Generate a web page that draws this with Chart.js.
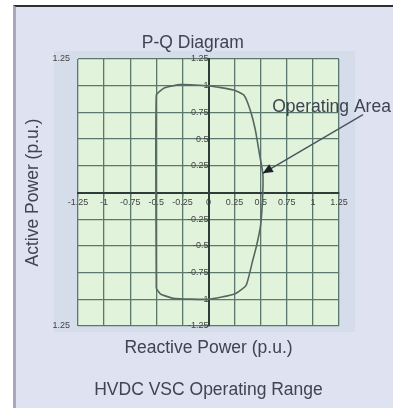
<html>
  <head>
    <meta charset="UTF-8">
    <title>P-Q Diagram</title>
    <style>
  body { margin: 0; background: #ffffff; }
  .wrap { position: relative; width: 393px; height: 408px; overflow: hidden; }
  .frame {
    position: absolute; left: 13px; top: 5px; right: 0; bottom: 0;
    background: #dfe2f0;
    border-top: 2px solid #2e2e35;
    border-left: 3px solid #a7a9bb;
  }
  canvas { position: absolute; left: 0; top: 0; }
</style>
    <script src="https://cdn.jsdelivr.net/npm/chart.js"></script>
  </head>
  <body>
    <div class="wrap">
      <div class="frame"></div>
      <canvas id="pq" width="393" height="408"></canvas>
    </div>
    <script>
    // operating boundary (Q, P in p.u.)
    const pqX = [-0.5, -0.5, -0.42, -0.27, 0, 0.24, 0.34, 0.40, 0.45, 0.49, 0.52, 0.52, 0.50, 0.46, 0.42, 0.36, 0.25, 0, -0.34, -0.46, -0.5];
    const pqY = [-0.9, 0.91, 0.98, 1.01, 1.0, 0.96, 0.91, 0.77, 0.58, 0.35, 0.18, 0, -0.3, -0.5, -0.65, -0.87, -0.95, -1.0, -0.99, -0.95, -0.9];

    const axisMin = -1.25;
    const axisMax = 1.25;
    const axisStep = 0.25;
    const outerYTicks = [-1.25, 1.25];
    const outerYLabels = ['1.25', '1.25'];

    const headline = 'P-Q Diagram';
    const headlineX = -0.15;
    const noteText = 'Operating Area';
    const noteAt = [0.61, 0.80];
    const arrowFrom = [1.48, 0.73];
    const arrowTo = [0.52, 0.18];

    const ink = '#3d4452';
    const gridCol = '#5c776d';
    const fam = '"Liberation Sans", Arial, sans-serif';

    const points = pqX.map((x, i) => ({ x: x, y: pqY[i] }));

    const plotBack = {
      id: 'plotBack',
      beforeDraw(chart) {
        const { ctx, chartArea: a } = chart;
        ctx.save();
        ctx.fillStyle = '#d5dcea';
        ctx.fillRect(a.left - 24, a.top - 8, a.width + 40, a.height + 14);
        ctx.fillStyle = '#e2f3dc';
        ctx.fillRect(a.left, a.top, a.width, a.height);
        ctx.restore();
      }
    };

    const note = {
      id: 'note',
      afterDraw(chart) {
        const { ctx, chartArea } = chart;
        const sx = chart.scales.x, sy = chart.scales.y;
        ctx.save();
        // heading above the grid
        ctx.fillStyle = ink;
        ctx.font = '17.5px ' + fam;
        ctx.textAlign = 'center';
        ctx.textBaseline = 'middle';
        ctx.fillText(headline, sx.getPixelForValue(headlineX), chartArea.top - 16);

        const x0 = sx.getPixelForValue(arrowFrom[0]), y0 = sy.getPixelForValue(arrowFrom[1]);
        const x1 = sx.getPixelForValue(arrowTo[0]), y1 = sy.getPixelForValue(arrowTo[1]);
        ctx.strokeStyle = '#4a5560';
        ctx.lineWidth = 1.5;
        ctx.beginPath();
        ctx.moveTo(x0, y0);
        ctx.lineTo(x1, y1);
        ctx.stroke();
        // arrow head
        const ang = Math.atan2(y1 - y0, x1 - x0);
        const len = 10, half = 4.5;
        ctx.fillStyle = '#1e2228';
        ctx.beginPath();
        ctx.moveTo(x1, y1);
        ctx.lineTo(x1 - len * Math.cos(ang) + half * Math.sin(ang), y1 - len * Math.sin(ang) - half * Math.cos(ang));
        ctx.lineTo(x1 - len * Math.cos(ang) - half * Math.sin(ang), y1 - len * Math.sin(ang) + half * Math.cos(ang));
        ctx.closePath();
        ctx.fill();
        ctx.fillStyle = ink;
        ctx.textAlign = 'left';
        ctx.fillText(noteText, sx.getPixelForValue(noteAt[0]), sy.getPixelForValue(noteAt[1]));
        ctx.restore();
      }
    };

    const tickFont = { family: fam, size: 9 };
    const bigFont = { family: fam, size: 17.5 };

    new Chart(document.getElementById('pq').getContext('2d'), {
      type: 'scatter',
      data: {
        datasets: [{
          label: 'P-Q',
          data: points,
          showLine: true,
          borderColor: '#55685f',
          borderWidth: 1.6,
          pointRadius: 0,
          tension: 0.15,
          fill: false
        }]
      },
      options: {
        responsive: false,
        animation: false,
        devicePixelRatio: 1,
        layout: { padding: { left: 16, right: 54, top: 59, bottom: 0 } },
        plugins: {
          legend: { display: false },
          tooltip: { enabled: false },
          title: { display: false },
          subtitle: {
            display: true,
            position: 'bottom',
            fullSize: false,
            text: 'HVDC VSC Operating Range',
            color: ink,
            font: bigFont,
            padding: { top: 21, bottom: 7.5 }
          }
        },
        scales: {
          x: {
            type: 'linear',
            position: { y: 0 },
            min: axisMin, max: axisMax,
            ticks: {
              stepSize: axisStep, autoSkip: false, maxRotation: 0,
              color: '#444', font: tickFont, padding: 2,
              callback: (v) => String(v)
            },
            grid: { color: gridCol, lineWidth: 1.3, tickLength: 3 },
            border: { color: '#2f3d38', width: 2 }
          },
          y: {
            type: 'linear',
            position: { x: 0 },
            min: axisMin, max: axisMax,
            ticks: {
              stepSize: axisStep, autoSkip: false,
              color: '#444', font: tickFont, padding: 2,
              callback: (v) => v === 0 ? '' : String(v)
            },
            grid: { color: gridCol, lineWidth: 1.3, tickLength: 3 },
            border: { color: '#2f3d38', width: 2 }
          },
          yOuter: {
            type: 'linear',
            position: 'left',
            min: axisMin, max: axisMax,
            afterBuildTicks: (s) => { s.ticks = outerYTicks.map(v => ({ value: v })); },
            ticks: {
              color: '#444', font: tickFont, padding: 8,
              callback: (v) => outerYLabels[outerYTicks.indexOf(v)] || ''
            },
            grid: { display: false, drawTicks: false },
            border: { display: false },
            title: {
              display: true, text: 'Active Power (p.u.)',
              color: ink, font: bigFont, padding: { top: 6.5, bottom: 1 }
            }
          },
          xOuter: {
            type: 'linear',
            position: 'bottom',
            min: axisMin, max: axisMax,
            ticks: { display: false },
            grid: { display: false, drawTicks: false },
            border: { display: false },
            title: {
              display: true, text: 'Reactive Power (p.u.)',
              color: ink, font: bigFont, padding: { top: 11.5, bottom: 0 }
            }
          }
        }
      },
      plugins: [plotBack, note]
    });
  </script>
  </body></html>
